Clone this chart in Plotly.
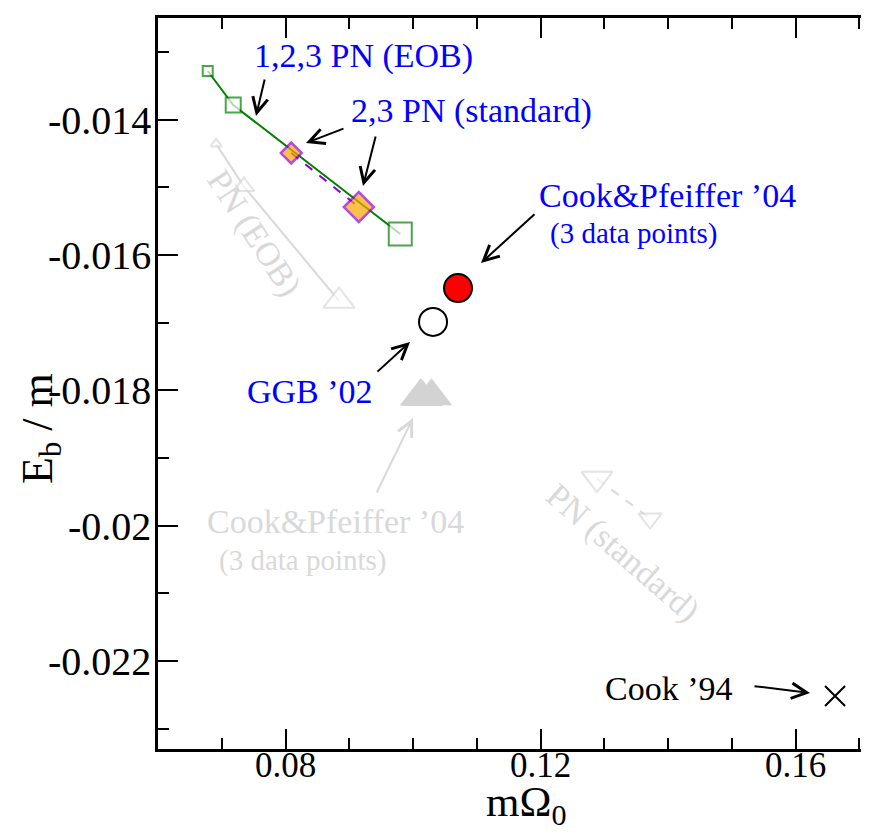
import plotly.graph_objects as go

# ---------------- data ----------------
eob_x = [0.0678, 0.0718, 0.0980]          # 1,2,3 PN (EOB)
eob_y = [-0.013283, -0.013786, -0.015692]
eob_size = [10, 15, 23]

std_x = [0.0809, 0.0915]                  # 2,3 PN (standard)
std_y = [-0.014495, -0.015293]
std_size = [16, 23]

cp04_x = [0.10706]                        # Cook&Pfeiffer '04
cp04_y = [-0.01649]
ggb_x = [0.10314]                         # GGB '02
ggb_y = [-0.01699]

cp04g_x = [0.1012, 0.1014, 0.1029]        # Cook&Pfeiffer '04 (grey, 3 points)
cp04g_y = [-0.01809, -0.01810, -0.01809]

pneob_x = [0.0691, 0.07349, 0.08839]      # PN (EOB), grey
pneob_y = [-0.01436, -0.01499, -0.01668]
pneob_size = [10, 18, 27]

pnstd_x = [0.12886, 0.13718]              # PN (standard), grey
pnstd_y = [-0.019305, -0.019895]
pnstd_size = [27, 20]

cook94_x = [0.1662]                       # Cook '94
cook94_y = [-0.022518]

x_ticks = [0.08, 0.12, 0.16]
x_ticktext = ["0.08", "0.12", "0.16"]
y_ticks = [-0.014, -0.016, -0.018, -0.020, -0.022]
y_ticktext = ["-0.014", "-0.016", "-0.018", "-0.02", "-0.022"]

# ---------------- styling ----------------
FONT = "Liberation Serif"
GREY = "#d9d9d9"
GREEN = "#008000"
BLUE = "#0000ff"
PURPLE = "#9400d3"

X0, X1 = 0.06, 0.17278
Y0, Y1 = -0.0233, -0.0125
L, T, W, H = 150, 10, 869, 835
PW, PH = W - L, 731


def X(px):
    return X0 + (px - L) / PW * (X1 - X0)


def Y(py):
    return Y1 - (py - T) / PH * (Y1 - Y0)


fig = go.Figure()

# grey background items
fig.add_trace(go.Scatter(x=pneob_x, y=pneob_y, mode="lines+markers",
                         line=dict(color=GREY, width=2),
                         marker=dict(symbol="triangle-up", size=pneob_size, color="white",
                                     line=dict(color=GREY, width=2)),
                         showlegend=False))
fig.add_trace(go.Scatter(x=pnstd_x, y=pnstd_y, mode="lines+markers",
                         line=dict(color=GREY, width=2, dash="dash"),
                         marker=dict(symbol="triangle-down", size=pnstd_size, color="white",
                                     line=dict(color=GREY, width=2)),
                         showlegend=False))
fig.add_trace(go.Scatter(x=cp04g_x, y=cp04g_y, mode="markers",
                         marker=dict(symbol="triangle-up", size=36, color="#d3d3d3",
                                     line=dict(width=0)),
                         showlegend=False))

# coloured items
fig.add_trace(go.Scatter(x=eob_x, y=eob_y, mode="lines",
                         line=dict(color=GREEN, width=2), showlegend=False))
fig.add_trace(go.Scatter(x=std_x, y=std_y, mode="lines",
                         line=dict(color=PURPLE, width=2, dash="dash"), showlegend=False))
fig.add_trace(go.Scatter(x=eob_x, y=eob_y, mode="markers",
                         marker=dict(symbol="square", size=eob_size, color="white",
                                     line=dict(color=GREEN, width=2)),
                         showlegend=False))
fig.add_trace(go.Scatter(x=std_x, y=std_y, mode="markers",
                         marker=dict(symbol="diamond", size=std_size, color="#ffa500",
                                     line=dict(color=PURPLE, width=2.5)),
                         showlegend=False))
fig.add_trace(go.Scatter(x=cp04_x, y=cp04_y, mode="markers",
                         marker=dict(symbol="circle", size=28, color="red",
                                     line=dict(color="black", width=2)),
                         showlegend=False))
fig.add_trace(go.Scatter(x=ggb_x, y=ggb_y, mode="markers",
                         marker=dict(symbol="circle", size=28, color="white",
                                     line=dict(color="black", width=2)),
                         showlegend=False))
fig.add_trace(go.Scatter(x=cook94_x, y=cook94_y, mode="markers",
                         marker=dict(symbol="x-thin-open", size=20, color="black",
                                     line=dict(color="black", width=2)),
                         showlegend=False))

annotations = []


def label(text, px, py, color, size=34, angle=0):
    annotations.append(dict(x=X(px), y=Y(py), xref="x", yref="y", text=text,
                            showarrow=False, xanchor="center", yanchor="middle",
                            textangle=angle,
                            font=dict(family=FONT, size=size, color=color)))


def arrow(tx, ty, hx, hy, color="black"):
    annotations.append(dict(x=X(hx), y=Y(hy), ax=X(tx), ay=Y(ty), xref="x", yref="y",
                            axref="x", ayref="y", text="", showarrow=True,
                            arrowhead=5, arrowsize=1.5, arrowwidth=2, arrowcolor=color,
                            standoff=0, startstandoff=0))


label("1,2,3 PN (EOB)", 355, 48, BLUE)
arrow(257, 70, 248, 108)
label("2,3 PN (standard)", 463, 103, BLUE)
arrow(337, 120, 298, 135)
arrow(368, 127, 355, 178)
label("Cook&amp;Pfeiffer ’04", 659, 187, BLUE)
label("(3 data points)", 626, 225, BLUE, size=29)
arrow(528, 205, 473, 255)
label("GGB ’02", 302, 383, BLUE)
arrow(368, 365, 402, 334)
label("Cook&amp;Pfeiffer ’04", 327, 513, GREY)
label("(3 data points)", 295, 552, GREY, size=29)
arrow(368, 486, 405, 410, GREY)
label("PN (EOB)", 246, 225, GREY, angle=57)
label("PN (standard)", 615, 545, GREY, angle=41)
label("Cook ’94", 661, 680, "black")
arrow(745, 678, 802, 685)

# axis titles
annotations.append(dict(x=(32 - L) / PW, y=(T + PH - 421) / PH, xref="paper", yref="paper",
                        text="E<sub>b</sub> / m", showarrow=False, textangle=-90,
                        xanchor="center", yanchor="middle",
                        font=dict(family=FONT, size=44, color="black")))
annotations.append(dict(x=(518 - L) / PW, y=(T + PH - 797) / PH, xref="paper", yref="paper",
                        text="mΩ<sub>0</sub>", showarrow=False,
                        xanchor="center", yanchor="middle",
                        font=dict(family=FONT, size=43, color="black")))

axis_common = dict(showgrid=False, zeroline=False, showline=True, linecolor="black",
                   linewidth=2.5, ticks="inside", ticklen=20, tickwidth=2,
                   tickcolor="black", automargin=False)

fig.update_xaxes(range=[X0, X1], tickmode="array", tickvals=x_ticks, ticktext=x_ticktext,
                 mirror="allticks", ticklabelstandoff=-17,
                 tickfont=dict(family=FONT, size=35, color="black"),
                 minor=dict(tickmode="linear", tick0=0, dtick=0.01, ticks="inside",
                            ticklen=11, tickwidth=2, tickcolor="black"),
                 **axis_common)
fig.update_yaxes(range=[Y0, Y1], tickmode="array", tickvals=y_ticks, ticktext=y_ticktext,
                 mirror=False, ticklabelstandoff=-4,
                 tickfont=dict(family=FONT, size=40, color="black"),
                 minor=dict(tickmode="linear", tick0=0, dtick=0.001, ticks="inside",
                            ticklen=11, tickwidth=2, tickcolor="black"),
                 **axis_common)

fig.update_layout(width=W, height=H, margin=dict(l=L, r=0, t=T, b=H - T - PH),
                  plot_bgcolor="white", paper_bgcolor="white",
                  showlegend=False, annotations=annotations,
                  font=dict(family=FONT))

fig.write_html("out.html")
